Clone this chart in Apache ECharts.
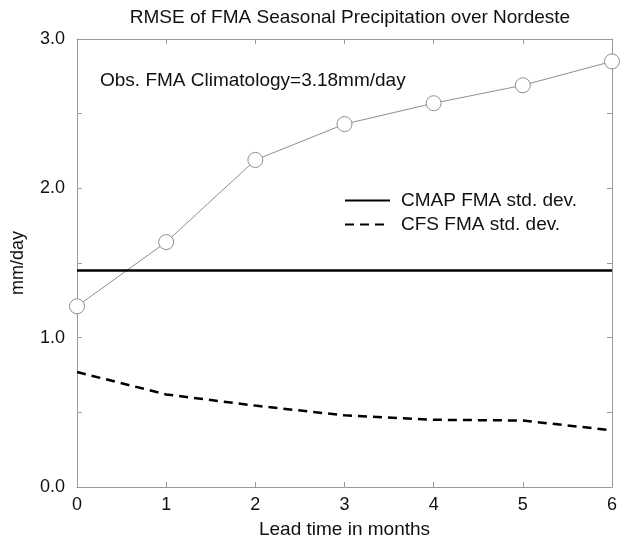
<!DOCTYPE html>
<html>
<head>
<meta charset="utf-8">
<script src="https://cdn.jsdelivr.net/npm/echarts@6/dist/echarts.min.js"></script>
<style>html,body{margin:0;padding:0;background:#fff;}#c{width:622px;height:540px;}</style>
</head>
<body>
<div id="c"></div>
<script>
const leadMonths = [0, 1, 2, 3, 4, 5, 6];
const rmse = [1.21, 1.64, 2.19, 2.43, 2.57, 2.69, 2.85];
const cmapStd = 1.45;
const cfsStd = [0.77, 0.62, 0.545, 0.48, 0.45, 0.445, 0.38];
const titleText = 'RMSE of FMA Seasonal Precipitation over Nordeste';
const noteText = 'Obs. FMA Climatology=3.18mm/day';
const legendNames = ['CMAP FMA std. dev.', 'CFS FMA std. dev.'];

const FONT = '"Liberation Sans", Arial, Helvetica, sans-serif';
const frame = '#9a9a9a';
const chart = echarts.init(document.getElementById('c'), null, {renderer: 'canvas'});

const pair = (xs, ys) => xs.map((x, i) => [x, ys[i]]);

const baseX = () => ({
  type: 'value', min: 0, max: 6, interval: 1,
  axisLine: {show: true, onZero: false, lineStyle: {color: frame, width: 1}},
  axisTick: {show: true, inside: true, length: 5, lineStyle: {color: frame}},
  splitLine: {show: false}
});
const baseY = () => ({
  type: 'value', min: 0, max: 3, interval: 0.5,
  axisLine: {show: true, onZero: false, lineStyle: {color: frame, width: 1}},
  axisTick: {show: true, inside: true, length: 5, lineStyle: {color: frame}},
  splitLine: {show: false}
});

chart.setOption({
  animation: false,
  backgroundColor: '#fff',
  textStyle: {fontFamily: FONT},
  title: [
    {text: titleText, left: 345, textAlign: 'center', top: 3,
     textStyle: {fontFamily: FONT, fontSize: 19, fontWeight: 'normal', color: '#111'}},
    {text: noteText, left: 95, top: 66,
     textStyle: {fontFamily: FONT, fontSize: 19, fontWeight: 'normal', color: '#111'}}
  ],
  legend: {
    data: legendNames,
    orient: 'vertical', left: 344, top: 191, padding: 0,
    itemWidth: 45, itemHeight: 14, itemGap: 5,
    itemStyle: {opacity: 0},
    textStyle: {fontFamily: FONT, fontSize: 19, color: '#111', padding: [0, 0, 0, 6]},
    selectedMode: false
  },
  grid: {left: 77, right: 10, top: 39, bottom: 53, containLabel: false, outerBoundsMode: 'none'},
  xAxis: [
    Object.assign(baseX(), {
      position: 'bottom',
      name: 'Lead time in months', nameLocation: 'middle', nameGap: 33,
      nameTextStyle: {fontFamily: FONT, fontSize: 19, color: '#111'},
      axisLabel: {fontFamily: FONT, fontSize: 18, color: '#111', margin: 9}
    }),
    Object.assign(baseX(), {position: 'top', axisLabel: {show: false}})
  ],
  yAxis: [
    Object.assign(baseY(), {
      position: 'left',
      name: 'mm/day', nameLocation: 'middle', nameGap: 50,
      nameTextStyle: {fontFamily: FONT, fontSize: 18, color: '#111'},
      axisLabel: {fontFamily: FONT, fontSize: 18, color: '#111', margin: 12,
        formatter: v => (Math.abs(v - Math.round(v)) < 1e-9 ? v.toFixed(1) : '')}
    }),
    Object.assign(baseY(), {position: 'right', axisLabel: {show: false}})
  ],
  series: [
    {
      name: 'RMSE', type: 'line', xAxisIndex: 0, yAxisIndex: 0,
      data: pair(leadMonths, rmse),
      symbol: 'circle', symbolSize: 15,
      lineStyle: {color: '#8f8f8f', width: 1},
      itemStyle: {color: '#ffffff', borderColor: '#8f8f8f', borderWidth: 1}
    },
    {
      name: legendNames[0], type: 'line', xAxisIndex: 0, yAxisIndex: 0,
      data: pair([leadMonths[0], leadMonths[leadMonths.length - 1]], [cmapStd, cmapStd]),
      symbol: 'none', lineStyle: {color: '#000', width: 2.5, type: 'solid'},
      itemStyle: {color: '#000'}
    },
    {
      name: legendNames[1], type: 'line', xAxisIndex: 0, yAxisIndex: 0,
      data: pair(leadMonths, cfsStd),
      symbol: 'none', lineStyle: {color: '#000', width: 2.5, type: [9, 6]},
      itemStyle: {color: '#000'}
    }
  ]
});
</script>
</body>
</html>
